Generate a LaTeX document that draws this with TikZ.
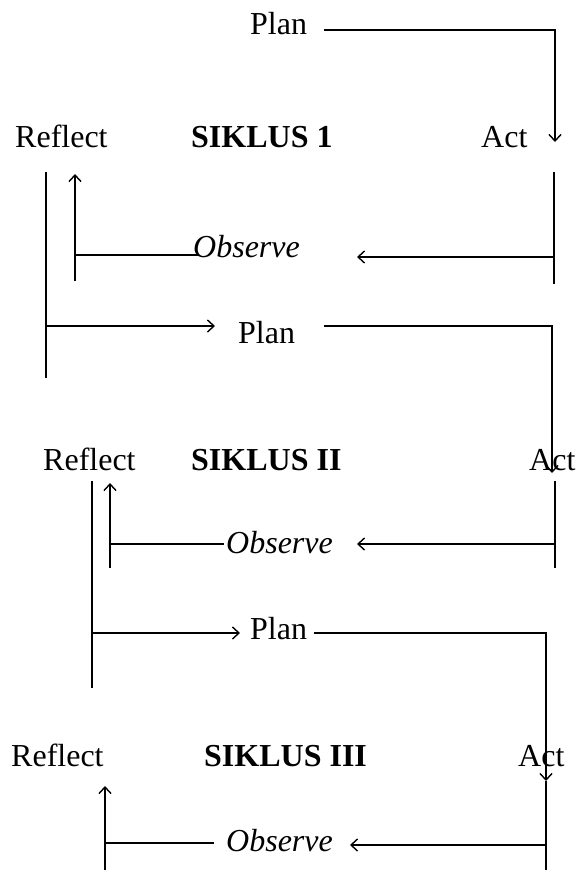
\documentclass[tikz,border=0pt]{standalone}
\usepackage{fontspec}
\setmainfont{Liberation Serif}
\usetikzlibrary{arrows.meta}
\begin{document}
\begin{tikzpicture}[x=1pt,y=-1pt,
  lbl/.style={inner sep=0pt,anchor=base west,font=\fontsize{32}{36}\selectfont},
  ttl/.style={lbl,font=\fontsize{32}{36}\selectfont\bfseries},
  obs/.style={lbl,font=\fontsize{32}{36}\selectfont\itshape},
  ln/.style={line width=1.4pt,black},
  arr/.style={ln,-{Straight Barb[length=6.5pt,width=12pt,line width=1.4pt]}}]
\useasboundingbox[fill=white] (0,0) rectangle (576,870);
% ---- texts ----
\node[lbl] (plan1) at (250,34) {Plan};
\node[lbl] (refl1) at (15,147) {Reflect};
\node[ttl] (sik1) at (191,147) {SIKLUS 1};
\node[lbl] (act1) at (481,147) {Act};
\node[obs] (obs1) at (193,257) {Observe};
\node[lbl] (plan2) at (238,343) {Plan};
\node[lbl] (refl2) at (43,470) {Reflect};
\node[ttl] (sik2) at (191,470) {SIKLUS II};
\node[lbl] (act2) at (529,470) {Act};
\node[obs] (obs2) at (226,553) {Observe};
\node[lbl] (plan3) at (250,639) {Plan};
\node[lbl] (refl3) at (11,766) {Reflect};
\node[ttl] (sik3) at (204,766) {SIKLUS III};
\node[lbl] (act3) at (518,766) {Act};
\node[obs] (obs3) at (226,851) {Observe};
% ---- coordinates ----
\coordinate (p1s) at (324,30);
\coordinate (a1t) at (555,142);
\coordinate (l1t) at (46,172);
\coordinate (l1b) at (46,378);
\coordinate (u1b) at (75,281);
\coordinate (u1t) at (75,174);
\coordinate (o1l) at (75,255);
\coordinate (o1r) at (199,255);
\coordinate (r1t) at (554,172);
\coordinate (r1b) at (554,284);
\coordinate (r1m) at (554,257);
\coordinate (o1a) at (357,257);
\coordinate (p2l) at (46,326);
\coordinate (p2a) at (215,326);
\coordinate (p2s) at (324,326);
\coordinate (a2t) at (552,473);
\coordinate (l2t) at (92,481);
\coordinate (l2b) at (92,688);
\coordinate (u2b) at (110,568);
\coordinate (u2t) at (110,483);
\coordinate (o2l) at (110,544);
\coordinate (o2r) at (224,544);
\coordinate (r2t) at (555,481);
\coordinate (r2b) at (555,568);
\coordinate (r2m) at (555,544);
\coordinate (o2a) at (357,544);
\coordinate (p3l) at (92,633);
\coordinate (p3a) at (240,633);
\coordinate (p3s) at (314,633);
\coordinate (a3t) at (546,781);
\coordinate (r3b) at (546,870);
\coordinate (u3b) at (105,870);
\coordinate (u3t) at (105,786);
\coordinate (o3l) at (105,843);
\coordinate (o3r) at (214,843);
\coordinate (r3m) at (546,845);
\coordinate (o3a) at (350,845);
% ---- cycle 1 ----
\draw[arr] (p1s) -| (a1t);
\draw[ln] (l1t) -- (l1b);
\draw[arr] (u1b) -- (u1t);
\draw[ln] (o1l) -- (o1r);
\draw[ln] (r1t) -- (r1b);
\draw[arr] (r1m) -- (o1a);
\draw[arr] (p2l) -- (p2a);
% ---- cycle 2 ----
\draw[arr] (p2s) -| (a2t);
\draw[ln] (l2t) -- (l2b);
\draw[arr] (u2b) -- (u2t);
\draw[ln] (o2l) -- (o2r);
\draw[ln] (r2t) -- (r2b);
\draw[arr] (r2m) -- (o2a);
\draw[arr] (p3l) -- (p3a);
% ---- cycle 3 ----
\draw[arr] (p3s) -| (a3t);
\draw[ln] (a3t) -- (r3b);
\draw[arr] (u3b) -- (u3t);
\draw[ln] (o3l) -- (o3r);
\draw[arr] (r3m) -- (o3a);
\end{tikzpicture}
\end{document}
